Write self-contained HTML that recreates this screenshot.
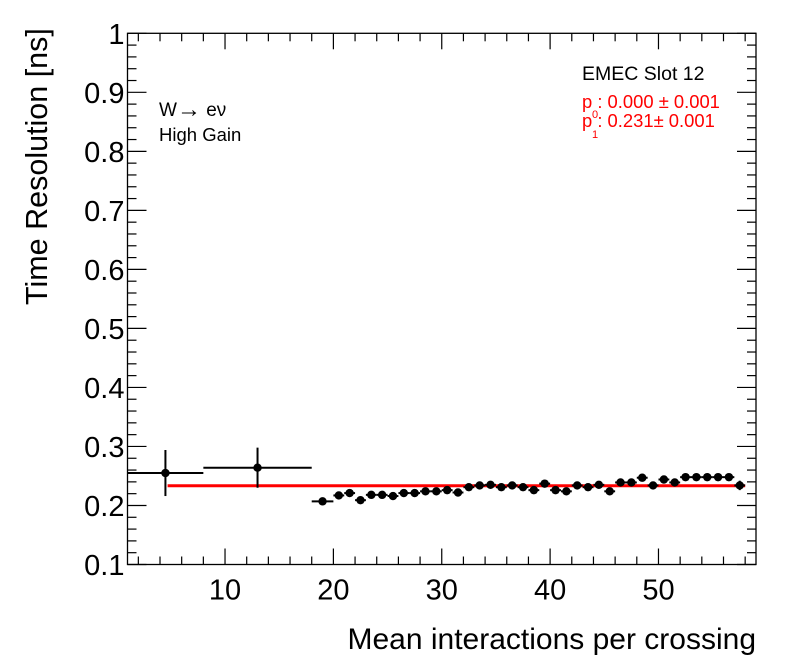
<!DOCTYPE html>
<html><head><meta charset="utf-8"><style>
body{margin:0;background:#fff;}
svg{display:block;font-family:"Liberation Sans",Arial,sans-serif;}
</style></head><body>
<svg id="chart" width="796" height="672" viewBox="0 0 796 672" xmlns="http://www.w3.org/2000/svg">
<rect x="0" y="0" width="796" height="672" fill="#fff"/>
<g id="axes"></g>
<g id="marks"></g>
<text x="0" y="0" transform="translate(47,305) rotate(-90)" text-anchor="start" font-size="30.5">Time Resolution [ns]</text>
<text x="756" y="649" text-anchor="end" font-size="30">Mean interactions per crossing</text>
<text x="159" y="116" font-size="19">W<tspan font-size="24" dy="1">→</tspan><tspan dy="-1"> eν</tspan></text>
<text x="159" y="141" font-size="18.5">High Gain</text>
<text x="582" y="80" font-size="19.5">EMEC Slot 12</text>
<g fill="#f00" font-size="18.4">
<text x="582" y="108">p : 0.000 ± 0.001</text>
<text x="592" y="118" font-size="11">0</text>
<text x="582" y="127">p : 0.231± 0.001</text>
<text x="592" y="138" font-size="11">1</text>
</g>
</svg>
<script>
const xCenters=[4.5,13,19,20.5,21.5,22.5,23.5,24.5,25.5,26.5,27.5,28.5,29.5,30.5,31.5,32.5,33.5,34.5,35.5,36.5,37.5,38.5,39.5,40.5,41.5,42.5,43.5,44.5,45.5,46.5,47.5,48.5,49.5,50.5,51.5,52.5,53.5,54.5,55.5,56.5,57.5];
const xHalfWidths=[3.5,5,1,0.5,0.5,0.5,0.5,0.5,0.5,0.5,0.5,0.5,0.5,0.5,0.5,0.5,0.5,0.5,0.5,0.5,0.5,0.5,0.5,0.5,0.5,0.5,0.5,0.5,0.5,0.5,0.5,0.5,0.5,0.5,0.5,0.5,0.5,0.5,0.5,0.5,0.5];
const resolution=[0.255,0.264,0.207,0.217,0.221,0.209,0.218,0.218,0.216,0.221,0.221,0.224,0.224,0.226,0.222,0.231,0.234,0.235,0.231,0.234,0.231,0.226,0.237,0.226,0.224,0.234,0.231,0.235,0.224,0.239,0.239,0.247,0.234,0.244,0.239,0.248,0.248,0.248,0.248,0.248,0.234];
const resErrors=[0.039,0.034,0.003,0.004,0.004,0.003,0.003,0.003,0.003,0.003,0.003,0.003,0.003,0.003,0.003,0.003,0.003,0.003,0.003,0.003,0.003,0.003,0.003,0.003,0.003,0.003,0.003,0.003,0.003,0.003,0.003,0.003,0.003,0.003,0.003,0.003,0.003,0.003,0.003,0.003,0.008];
const fitValue=0.2335;
const fitRange=[4.7,58];
const xTicks=[10,20,30,40,50];
const yTicks=[0.1,0.2,0.3,0.4,0.5,0.6,0.7,0.8,0.9,1];
const yTickLabels=["0.1","0.2","0.3","0.4","0.5","0.6","0.7","0.8","0.9","1"];

const L=127.5,R=756,T=33.3,B=564.5,XMIN=1,XMAX=59,YMIN=0.1,YMAX=1;
const sx=v=>L+(v-XMIN)/(XMAX-XMIN)*(R-L);
const sy=v=>B-(v-YMIN)/(YMAX-YMIN)*(B-T);
const NS="http://www.w3.org/2000/svg";
function mk(tag,attrs,parent){const e=document.createElementNS(NS,tag);for(const k in attrs)e.setAttribute(k,attrs[k]);parent.appendChild(e);return e;}
const axes=document.getElementById('axes'),marks=document.getElementById('marks');
const frame=mk('rect',{x:L,y:T,width:R-L,height:B-T,fill:'none',stroke:'#000','stroke-width':1.3},axes);


for(let v=2;v<=58;v+=2){const major=v%10===0;const len=major?16:8;const x=sx(v);
 const t=mk('line',{x1:x,x2:x,y1:B,y2:B-len,stroke:'#000','stroke-width':1.2},axes);
 
 
 mk('line',{x1:x,x2:x,y1:T,y2:T+len,stroke:'#000','stroke-width':1.2},axes);}
xTicks.forEach(v=>{const t=mk('text',{x:sx(v),y:B+35,'text-anchor':'middle','font-size':29},axes);t.textContent=v;
 
 });
for(let i=0;i<=45;i++){const v=0.1+i*0.02;const major=i%5===0;const len=major?19:9;const y=sy(v);
 const t=mk('line',{x1:L,x2:L+len,y1:y,y2:y,stroke:'#000','stroke-width':1.2},axes);
 
 
 mk('line',{x1:R,x2:R-len,y1:y,y2:y,stroke:'#000','stroke-width':1.2},axes);}
yTicks.forEach((v,i)=>{const t=mk('text',{x:L-3,y:sy(v)+10.5,'text-anchor':'end','font-size':29},axes);t.textContent=yTickLabels[i];
 
 });
const fit=mk('line',{x1:sx(fitRange[0]),x2:sx(fitRange[1]),y1:sy(fitValue),y2:sy(fitValue),stroke:'#f00','stroke-width':3},marks);


xCenters.forEach((xc,i)=>{const g=mk('g',{},marks);
 
 
 const x=sx(xc),y=sy(resolution[i]);
 mk('line',{x1:sx(xc-xHalfWidths[i]),x2:sx(xc+xHalfWidths[i]),y1:y,y2:y,stroke:'#000','stroke-width':2},g);
 mk('line',{x1:x,x2:x,y1:sy(resolution[i]+resErrors[i]),y2:sy(resolution[i]-resErrors[i]),stroke:'#000','stroke-width':2},g);
 mk('circle',{cx:x,cy:y,r:4.2,fill:'#000'},g);});
</script>
</body></html>
